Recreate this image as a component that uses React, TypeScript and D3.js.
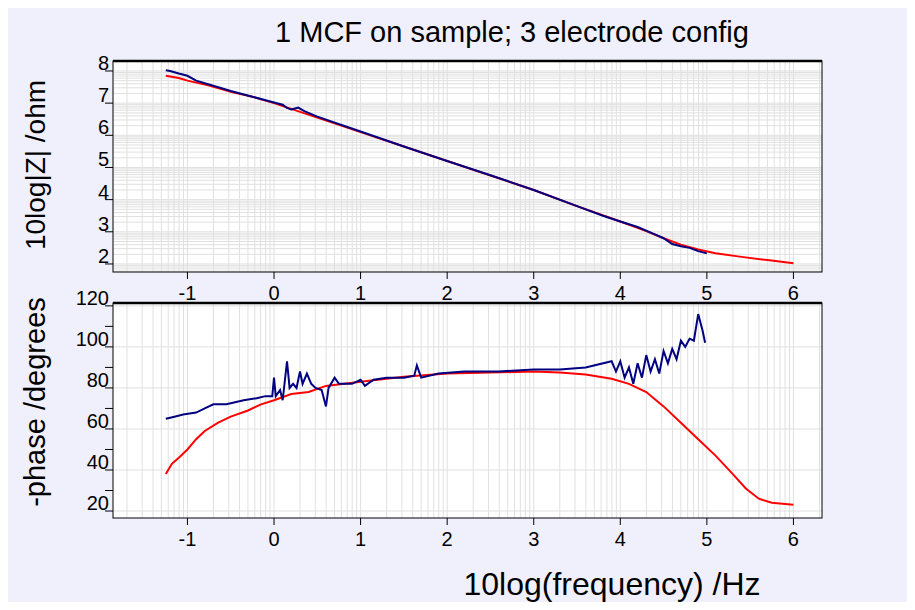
import * as d3 from "d3";
import * as React from "react";

// log10 frequency vs log10 |Z|
const zFit: [number, number][] = [
  [-1.25, 7.85], [-1.1, 7.78], [-1, 7.7], [-0.75, 7.55], [-0.5, 7.35], [-0.25, 7.2], [0, 7.0],
  [0.5, 6.55], [1, 6.1], [1.5, 5.65], [2, 5.2], [2.5, 4.75], [3, 4.3], [3.5, 3.8], [4, 3.32],
  [4.3, 3.02], [4.5, 2.8], [4.7, 2.6], [4.9, 2.45], [5.1, 2.33], [5.4, 2.22], [5.7, 2.12], [6, 2.02],
];
const zMeas: [number, number][] = [
  [-1.25, 8.02], [-1.2, 8.0], [-1.1, 7.92], [-1, 7.85], [-0.9, 7.7], [-0.75, 7.58], [-0.5, 7.38],
  [-0.25, 7.2], [0, 7.02], [0.1, 6.95], [0.15, 6.85], [0.2, 6.8], [0.28, 6.86], [0.35, 6.75],
  [0.5, 6.58], [1, 6.12], [1.5, 5.65], [2, 5.2], [2.5, 4.76], [3, 4.3], [3.5, 3.8], [3.8, 3.5],
  [4, 3.32], [4.2, 3.15], [4.4, 2.92], [4.5, 2.8], [4.6, 2.62], [4.7, 2.55], [4.8, 2.5], [4.9, 2.4], [5.0, 2.33],
];
// log10 frequency vs -phase
const phFit: [number, number][] = [
  [-1.25, 38], [-1.18, 43], [-1.1, 46], [-1, 50], [-0.9, 55], [-0.8, 59], [-0.65, 63], [-0.5, 66],
  [-0.3, 69], [-0.15, 72], [0, 74], [0.2, 77], [0.4, 78], [0.6, 81], [1, 83], [1.5, 85.5],
  [2, 87], [2.5, 87.5], [3, 88], [3.3, 87.5], [3.6, 86.5], [3.9, 84.5], [4.1, 82], [4.3, 78],
  [4.5, 71], [4.7, 63], [4.9, 55], [5.1, 47], [5.3, 38], [5.45, 31], [5.6, 26], [5.75, 24], [6, 23],
];
const phMeas: [number, number][] = [
  [-1.25, 65], [-1.15, 66], [-1.05, 67], [-0.9, 68], [-0.8, 70], [-0.7, 72], [-0.55, 72],
  [-0.45, 73], [-0.35, 74], [-0.2, 75], [-0.1, 76], [-0.02, 76], [0, 85], [0.02, 76], [0.07, 79],
  [0.1, 74], [0.15, 93], [0.18, 80], [0.22, 82], [0.26, 80], [0.3, 88], [0.33, 82], [0.38, 87],
  [0.43, 82], [0.48, 80], [0.55, 79], [0.6, 71], [0.63, 80], [0.7, 85], [0.75, 82], [0.9, 82],
  [1, 84], [1.05, 81], [1.15, 84], [1.3, 85], [1.5, 85], [1.62, 86], [1.65, 91], [1.7, 85],
  [1.9, 87], [2.2, 88], [2.6, 88], [3, 89], [3.3, 89], [3.6, 90], [3.9, 93], [3.95, 88],
  [4.0, 93], [4.05, 85], [4.1, 90], [4.15, 82], [4.2, 92], [4.25, 85], [4.3, 96], [4.35, 88],
  [4.4, 94], [4.45, 87], [4.5, 98], [4.55, 92], [4.6, 99], [4.65, 94], [4.7, 103], [4.75, 100],
  [4.8, 104], [4.85, 103], [4.9, 116], [4.95, 108], [4.98, 102],
];
const xTicks = [-1, 0, 1, 2, 3, 4, 5, 6];
const zTicks = [2, 3, 4, 5, 6, 7, 8];
const phTicks = [20, 40, 60, 80, 100, 120];

const FONT = "Arial, 'Liberation Sans', sans-serif";
const RED = "#ff0000";
const BLUE = "#000080";

function Panel({ top, bottom, yDomain, data, yTicks, logY }: any) {
  const left = 113, right = 822;
  const x = d3.scaleLinear().domain([-1.86, 6.33]).range([left, right]);
  const y = d3.scaleLinear().domain(yDomain).range([bottom, top]);
  const line = d3.line<[number, number]>().x((d) => x(d[0])).y((d) => y(d[1]));
  const xMinor: number[] = [];
  for (let dec = -2; dec <= 6; dec++)
    for (let k = 1; k <= 9; k++) {
      const v = dec + Math.log10(k);
      if (v > x.domain()[0] && v < x.domain()[1]) xMinor.push(v);
    }
  const yGrid: number[] = [];
  if (logY) {
    for (let dec = 1; dec <= 8; dec++)
      for (let k = 1; k <= 9; k++) {
        const v = dec + Math.log10(k);
        if (v > yDomain[0] && v < yDomain[1]) yGrid.push(v);
      }
  } else yTicks.forEach((t: number) => yGrid.push(t));
  const yMinorTicks = logY ? [] : d3.range(30, 120, 20);
  return (
    <g>
      <rect x={left} y={top} width={right - left} height={bottom - top} fill="#fff" />
      {xMinor.map((v, i) => (
        <line key={"x" + i} x1={x(v)} x2={x(v)} y1={top} y2={bottom} stroke="#e0e0e0" strokeWidth={1} />
      ))}
      {yGrid.map((v, i) => (
        <line key={"y" + i} x1={left} x2={right} y1={y(v)} y2={y(v)} stroke="#e0e0e0" strokeWidth={1} />
      ))}
      <path d={line(data[0]) || ""} fill="none" stroke={RED} strokeWidth={2} />
      <path d={line(data[1]) || ""} fill="none" stroke={BLUE} strokeWidth={2} />
      <rect x={left} y={top} width={right - left} height={bottom - top} fill="none" stroke="#000" strokeWidth={1} />
      <line x1={left} x2={right} y1={top} y2={top} stroke="#000" strokeWidth={2.5} />
      {yTicks.map((t: number) => (
        <g key={t}>
          <line x1={left - 8} x2={left} y1={y(t)} y2={y(t)} stroke="#000" />
          <text x={left - 4} y={y(t) - 1} textAnchor="end" fontSize={20} fontFamily={FONT}>{t}</text>
        </g>
      ))}
      {yMinorTicks.map((t) => (
        <line key={"m" + t} x1={left - 8} x2={left} y1={y(t)} y2={y(t)} stroke="#000" />
      ))}
      {xTicks.map((t) => (
        <g key={t}>
          <line x1={x(t)} x2={x(t)} y1={bottom} y2={bottom + 7} stroke="#000" />
          <text x={x(t)} y={bottom + 28} textAnchor="middle" fontSize={20} fontFamily={FONT}>{t}</text>
        </g>
      ))}
    </g>
  );
}

export default function App() {
  return (
    <svg width={915} height={610} style={{ display: "block", margin: -8 }}>
      <rect width={915} height={610} fill="#f0f0fc" />
      <text x={512} y={42} textAnchor="middle" fontSize={29} fontFamily={FONT}>1 MCF on sample; 3 electrode config</text>
      <Panel top={61} bottom={272} yDomain={[1.75, 8.31]} yTicks={zTicks} data={[zFit, zMeas]} logY />
      <Panel top={303} bottom={518} yDomain={[16.6, 121.4]} yTicks={phTicks} data={[phFit, phMeas]} />
      <text transform="translate(45,165) rotate(-90)" textAnchor="middle" fontSize={28} fontFamily={FONT}>10log|Z| /ohm</text>
      <text transform="translate(45,402) rotate(-90)" textAnchor="middle" fontSize={29} fontFamily={FONT}>-phase /degrees</text>
      <text x={612} y={595} textAnchor="middle" fontSize={32} fontFamily={FONT}>10log(frequency) /Hz</text>
    </svg>
  );
}
